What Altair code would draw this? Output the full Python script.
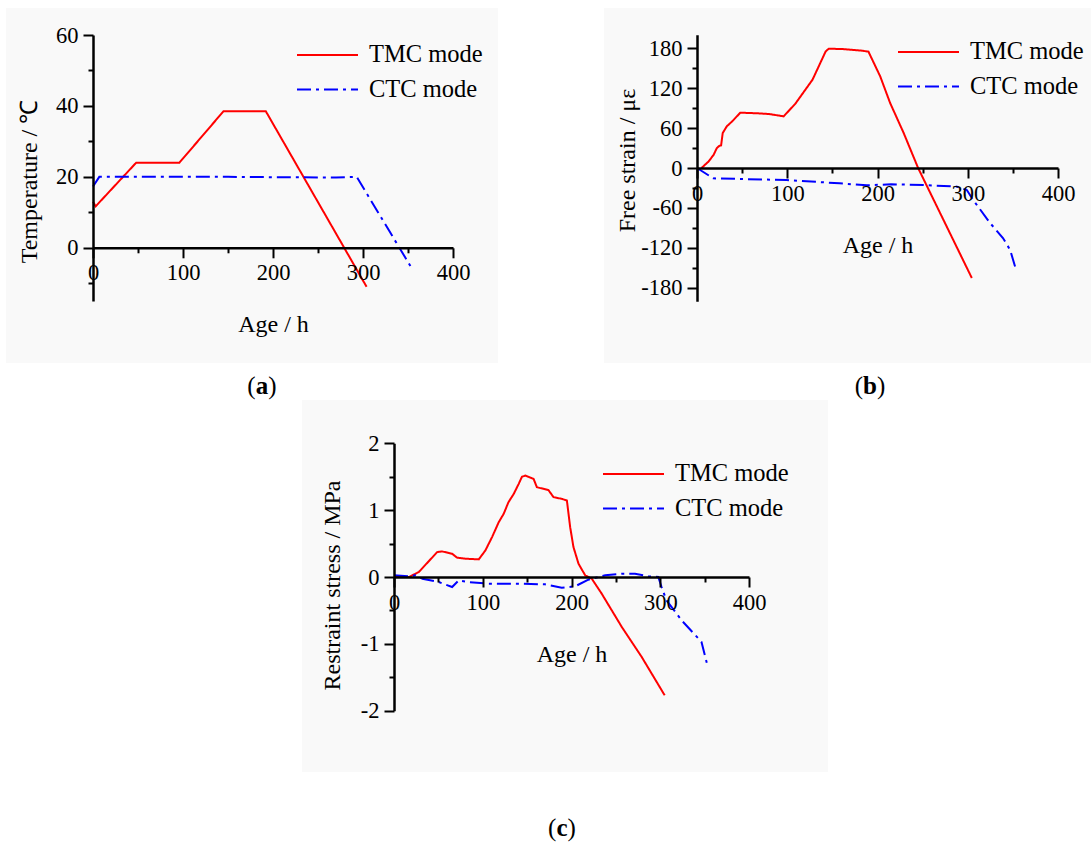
import altair as alt
import pandas as pd

# ---------------- data ----------------
SERIES = ["TMC mode", "CTC mode"]

# (a) Temperature / degC vs Age / h
a_tmc_age = [0, 3, 48, 96, 145, 192, 304]
a_tmc_val = [13, 11.7, 24, 24, 38.5, 38.5, -11]
a_ctc_age = [0, 7, 150, 270, 293, 354]
a_ctc_val = [17.3, 20, 20, 19.8, 20, -5.7]

# (b) Free strain / microstrain vs Age / h
b_tmc_age = [5, 13, 18.5, 22, 25, 26.7, 28.5, 33, 39, 48, 68, 80, 96, 109, 128,
             142.6, 146, 161, 183, 190, 203, 214, 229, 245, 304.5]
b_tmc_val = [0, 10, 20, 30, 33.5, 34, 52.5, 62.5, 70, 83, 82, 81, 77.5, 96.5, 132.5,
             175, 179, 178.5, 176, 174.5, 137.5, 97.5, 52.5, 0, -165]
b_ctc_age = [0, 18, 50, 99, 158, 188, 215, 251, 288, 299, 306, 325, 339, 347, 354]
b_ctc_val = [0, -15.5, -16.5, -18, -23, -26, -24.5, -25.5, -28, -33, -48, -83, -105, -123, -155]

# (c) Restraint stress / MPa vs Age / h
c_tmc_age = [0, 17, 28, 48.7, 54, 65.5, 71, 80.5, 95.5, 103, 110.5, 118, 123.6, 129,
             134.8, 140.4, 144.2, 148, 157.3, 161, 174, 179.8, 189, 194.8, 198.5,
             202.2, 207.9, 215.4, 222.8, 234, 256.6, 279, 305]
c_tmc_val = [0, 0, 0.075, 0.373, 0.383, 0.348, 0.29, 0.274, 0.264, 0.398, 0.597, 0.82,
             0.945, 1.12, 1.24, 1.39, 1.50, 1.517, 1.467, 1.343, 1.30, 1.194, 1.169,
             1.144, 0.746, 0.448, 0.199, 0.025, -0.025, -0.249, -0.746, -1.194, -1.77]
c_ctc_age = [0, 17, 24, 32, 50.5, 65.5, 73, 84, 106.7, 144, 170, 189, 204, 219, 238,
             256.6, 271.5, 286.5, 297.8, 301.5, 307, 324, 346.4, 353.5]
c_ctc_val = [0.025, 0.01, 0.025, -0.025, -0.075, -0.15, -0.05, -0.075, -0.1, -0.1,
             -0.11, -0.16, -0.14, -0.04, 0.025, 0.05, 0.05, 0.01, 0, -0.15, -0.348,
             -0.647, -0.97, -1.34]

X_TICKS = [0, 50, 100, 150, 200, 250, 300, 350, 400]
A_Y_TICKS = [-10, 0, 10, 20, 30, 40, 50, 60]
B_Y_TICKS = [-180, -150, -120, -90, -60, -30, 0, 30, 60, 90, 120, 150, 180]
C_Y_TICKS = [-2, -1.5, -1, -0.5, 0, 0.5, 1, 1.5, 2]

# ---------------- style ----------------
W, H = 1091, 843
FONT = "Liberation Serif"
COLORS = ["#ff0000", "#0000ff"]
DASHES = [[1, 0], [14, 5, 3, 5]]
BG = "#f9f9f9"
LEG_FS = 24.5
SYM_SIDE = 43                       # legend symbol box (px)
SYM_BOX = SYM_SIDE + 2              # vega: ceil(sqrt(size) + strokeWidth)
HALF_LINE = 30.5                    # half length of the legend line sample
SYM_PATH = f"M-{HALF_LINE / (SYM_SIDE / 2):.4f},0H{HALF_LINE / (SYM_SIDE / 2):.4f}"


def frame(tx, ty, cx, cy):
    return pd.DataFrame({
        "age": tx + cx,
        "value": ty + cy,
        "series": [SERIES[0]] * len(tx) + [SERIES[1]] * len(cx),
    })


def panel(df, xr, ydom, yr, yticks, ystep, ytitle, ytitle_x, ytitle_y, line_start, leg_row1):
    y0 = yr[0] + (0 - ydom[0]) / (ydom[1] - ydom[0]) * (yr[1] - yr[0])
    x0 = xr[0]
    common = dict(domainColor="black", domainWidth=2.5, tickColor="black", tickWidth=2,
                  labelColor="black", labelFont=FONT, labelFontSize=22.5,
                  titleFont=FONT, titleFontSize=24, titleFontWeight="normal",
                  titleColor="black", grid=False, labelOverlap=False, labelFlush=False,
                  labelBound=False, zindex=1, titleAlign="center", titleBaseline="middle")
    xaxis = alt.Axis(orient="bottom", offset=-(H - y0), values=X_TICKS,
                     labelExpr="datum.value % 100 == 0 ? '' + datum.value : ''",
                     tickSize={"condition": {"test": "datum.value % 100 == 0", "value": 10}, "value": 5},
                     labelPadding=4, title="Age / h", titleY=77, titleX=(xr[0] + xr[1]) / 2,
                     titleAngle=0, **common)
    yaxis = alt.Axis(orient="left", offset=-x0, values=yticks,
                     labelExpr=f"datum.value % {ystep} == 0 ? '' + datum.value : ''",
                     tickSize={"condition": {"test": f"datum.value % {ystep} == 0", "value": 10}, "value": 5},
                     labelPadding=5, title=ytitle, titleX=ytitle_x - x0, titleY=ytitle_y,
                     titleAngle=270, **common)
    leg_x = line_start + (HALF_LINE - SYM_BOX / 2)
    leg = alt.Legend(orient="none", legendX=leg_x, legendY=leg_row1 - SYM_BOX / 2 + 2, title=None,
                     symbolType=SYM_PATH, symbolSize=SYM_SIDE ** 2, symbolStrokeWidth=2,
                     labelFont=FONT, labelFontSize=LEG_FS, labelColor="black",
                     labelOffset=19, rowPadding=0.5, padding=0)
    return alt.Chart(df).mark_line(strokeWidth=2, clip=False).encode(
        x=alt.X("age:Q", scale=alt.Scale(domain=[0, 400], range=xr, nice=False, zero=False), axis=xaxis),
        y=alt.Y("value:Q", scale=alt.Scale(domain=ydom, range=yr, nice=False, zero=False), axis=yaxis),
        color=alt.Color("series:N", scale=alt.Scale(domain=SERIES, range=COLORS), legend=leg),
        strokeDash=alt.StrokeDash("series:N", scale=alt.Scale(domain=SERIES, range=DASHES), legend=leg),
    )


def background(x1, y1, x2, y2):
    return alt.Chart(alt.Data(values=[{}])).mark_rect(color=BG).encode(
        x=alt.value(x1), x2=alt.value(x2), y=alt.value(y1), y2=alt.value(y2))


def panel_label(letter, cx, base_y, half):
    base = alt.Chart(alt.Data(values=[{}]))
    style = dict(font=FONT, fontSize=25, color="black", baseline="alphabetic")
    return [
        base.mark_text(text="(", align="right", **style).encode(x=alt.value(cx - half), y=alt.value(base_y)),
        base.mark_text(text=letter, align="center", fontWeight="bold", **style).encode(x=alt.value(cx), y=alt.value(base_y)),
        base.mark_text(text=")", align="left", **style).encode(x=alt.value(cx + half), y=alt.value(base_y)),
    ]


pa = panel(frame(a_tmc_age, a_tmc_val, a_ctc_age, a_ctc_val),
           [93, 453], [-15, 60], [301, 35], A_Y_TICKS, 20, "Temperature / ℃",
           29, 181, 297, 53)
pb = panel(frame(b_tmc_age, b_tmc_val, b_ctc_age, b_ctc_val),
           [697, 1058], [-200, 200], [301.3, 34.7], B_Y_TICKS, 60, "Free strain / με",
           627, 160, 898, 50)
pc = panel(frame(c_tmc_age, c_tmc_val, c_ctc_age, c_ctc_val),
           [394, 749], [-2, 2], [710.7, 443.3], C_Y_TICKS, 1, "Restraint stress / MPa",
           332, 585, 603, 472)

layers = [background(6, 8, 498, 363), background(604, 8, 1091, 363), background(302, 400, 828, 772),
          pa, pb, pc]
layers += panel_label("a", 262, 394, 6.3)
layers += panel_label("b", 870, 394, 7)
layers += panel_label("c", 562, 836, 5.6)

chart = alt.layer(*layers).resolve_scale(
    x="independent", y="independent", color="independent", strokeDash="independent"
).resolve_axis(x="independent", y="independent").resolve_legend(
    color="independent", strokeDash="independent"
).properties(
    width=W, height=H, autosize=alt.AutoSizeParams(type="none"), padding=0, background="white"
).configure_view(stroke=None)

chart.save("out.html", embed_options={"renderer": "svg", "actions": False})
